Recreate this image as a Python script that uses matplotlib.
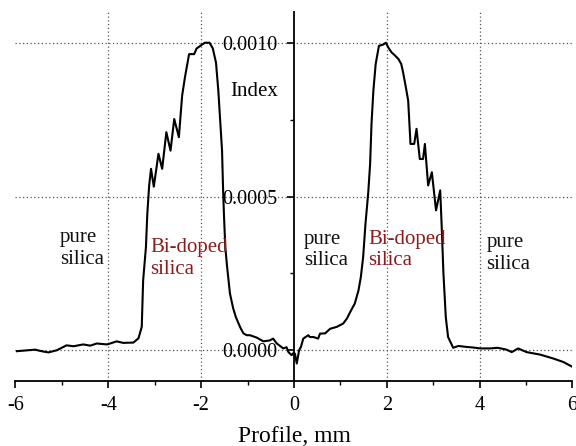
import numpy as np
import matplotlib
matplotlib.use("Agg")
import matplotlib.pyplot as plt
from matplotlib.ticker import MultipleLocator, FormatStrFormatter

# ---------------- DATA ---------------- #
# radial position across the preform, mm
profile_mm = [
    -5.97, -5.58, -5.44, -5.29, -5.11, -4.90, -4.75, -4.54, -4.39, -4.25,
    -4.03, -3.96, -3.82, -3.68, -3.46, -3.35, -3.28, -3.25, -3.19, -3.16,
    -3.12, -3.08, -3.02, -2.92, -2.84, -2.75, -2.66, -2.58, -2.48, -2.41,
    -2.35, -2.26, -2.15, -2.10, -2.00, -1.92, -1.82, -1.75, -1.68, -1.63,
    -1.59, -1.55, -1.53, -1.51, -1.48, -1.44, -1.38, -1.31, -1.25, -1.16,
    -1.09, -1.02, -0.95, -0.80, -0.66, -0.52, -0.45, -0.37, -0.23, -0.16,
    -0.12, -0.05, -0.02, 0.02, 0.06, 0.11, 0.15, 0.20, 0.31, 0.34,
    0.42, 0.52, 0.56, 0.67, 0.78, 0.92, 1.06, 1.14, 1.21, 1.31,
    1.39, 1.44, 1.49, 1.54, 1.60, 1.64, 1.67, 1.71, 1.76, 1.83,
    1.92, 1.98, 2.03, 2.10, 2.18, 2.25, 2.31, 2.35, 2.41, 2.46,
    2.51, 2.59, 2.64, 2.71, 2.78, 2.82, 2.89, 2.97, 3.06, 3.15,
    3.18, 3.22, 3.27, 3.32, 3.43, 3.54, 3.71, 3.86, 4.01, 4.22,
    4.39, 4.58, 4.69, 4.83, 5.01, 5.30, 5.59, 5.80, 6.00,
]

# refractive index difference, in units of 1e-4
index_e4 = [
    -0.03, 0.02, -0.03, -0.07, 0.00, 0.16, 0.13, 0.19, 0.15, 0.22,
    0.19, 0.22, 0.29, 0.24, 0.25, 0.39, 0.76, 2.27, 3.35, 4.44,
    5.36, 5.90, 5.32, 6.39, 5.90, 7.09, 6.49, 7.52, 6.93, 8.28,
    8.87, 9.63, 9.63, 9.81, 9.92, 10.00, 10.00, 9.82, 9.35, 8.44,
    7.47, 6.49, 5.36, 4.45, 3.35, 2.70, 1.85, 1.36, 1.07, 0.75,
    0.55, 0.49, 0.49, 0.41, 0.29, 0.32, 0.38, 0.22, 0.06, 0.10,
    -0.06, -0.16, -0.10, -0.11, -0.43, 0.00, 0.11, 0.38, 0.49, 0.43,
    0.43, 0.38, 0.54, 0.55, 0.70, 0.76, 0.87, 1.03, 1.24, 1.52,
    1.95, 2.38, 3.03, 4.11, 5.13, 6.06, 7.36, 8.44, 9.31, 9.90,
    9.94, 10.00, 9.85, 9.69, 9.58, 9.47, 9.31, 9.04, 8.55, 8.12,
    6.71, 6.71, 7.20, 6.22, 6.22, 6.71, 5.36, 5.79, 4.55, 5.20,
    4.11, 2.49, 1.08, 0.43, 0.08, 0.14, 0.11, 0.09, 0.06, 0.06,
    0.08, 0.02, -0.06, 0.06, -0.06, -0.14, -0.27, -0.38, -0.54,
]

# region labels: text, x (mm), y (last-line baseline, 1e-4), doped or not
region_text = ["pure\nsilica", "Bi-doped\nsilica", "pure\nsilica",
               "Bi-doped\nsilica", "pure\nsilica"]
region_x = [-5.04, -3.10, 0.22, 1.60, 4.15]
region_y = [2.82, 2.48, 2.76, 2.76, 2.65]
region_doped = [False, True, False, True, False]

# ---------------- STYLE ---------------- #
plt.rcParams['font.family'] = ['Liberation Serif', 'DejaVu Serif']
plt.rcParams['axes.unicode_minus'] = False
DOPED_COLOR = '#8c1c1c'
GRID_X = [-4, -2, 2, 4]
GRID_Y = [0.0, 0.0005, 0.0010]

fig = plt.figure(figsize=(5.76, 4.46), dpi=100)
ax = fig.add_axes([0.0269, 0.1457, 0.967, 0.8274])

x = np.array(profile_mm)
y = np.array(index_e4) * 1e-4
ax.plot(x, y, color='black', lw=1.5, zorder=3)

for gx in GRID_X:
    ax.axvline(gx, color='#555555', lw=0.9, ls=(0, (1, 2)), zorder=1)
for gy in GRID_Y:
    ax.axhline(gy, color='#555555', lw=0.9, ls=(0, (1, 2)), zorder=1)

ax.set_xlim(-6, 6)
ax.set_ylim(-0.0001, 0.0011)

# spines: bottom axis and a vertical axis through x = 0
ax.spines['top'].set_visible(False)
ax.spines['right'].set_visible(False)
ax.spines['left'].set_position(('data', 0))
for s in ('left', 'bottom'):
    ax.spines[s].set_linewidth(1.3)

ax.xaxis.set_major_locator(MultipleLocator(2))
ax.xaxis.set_minor_locator(MultipleLocator(1))
ax.yaxis.set_major_locator(MultipleLocator(0.0005))
ax.yaxis.set_minor_locator(MultipleLocator(0.00025))
ax.yaxis.set_major_formatter(FormatStrFormatter('%.4f'))

ax.tick_params(axis='both', which='major', direction='out', length=5,
               width=1.2, labelsize=14.5)
ax.tick_params(axis='both', which='minor', direction='out', length=3,
               width=1.0)
ax.tick_params(axis='x', which='major', pad=6)
ax.tick_params(axis='y', which='major', pad=7)
for lab in ax.get_yticklabels():
    lab.set_zorder(4)

ax.set_xlabel("Profile, mm", fontsize=17, labelpad=8)

ax.text(-1.38, 8.28e-4, "Index", fontsize=15, va='baseline', ha='left')
for txt, tx, ty, doped in zip(region_text, region_x, region_y, region_doped):
    ax.text(tx, ty * 1e-4, txt, fontsize=15, va='baseline', ha='left',
            linespacing=1.2, color=DOPED_COLOR if doped else '#111111')

fig.savefig('out.png', dpi=100)
